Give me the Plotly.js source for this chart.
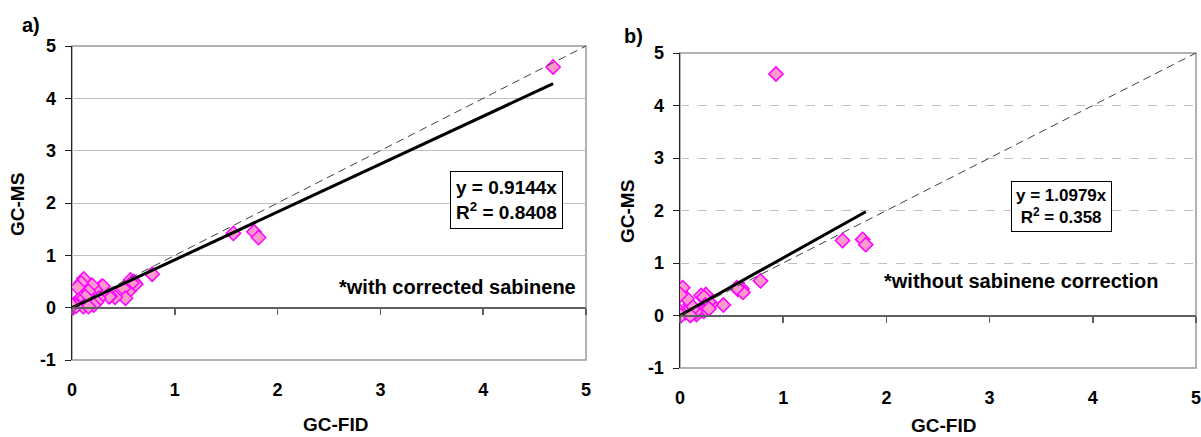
<!DOCTYPE html>
<html><head><meta charset="utf-8">
<script src="https://cdn.plot.ly/plotly-3.0.1.min.js"></script>
<style>html,body{margin:0;padding:0;background:#fff}#chart{width:1201px;height:437px}</style>
</head><body><div id="chart"></div>
<script>
// Panel a) with corrected sabinene
const fidA = [4.68, 1.57, 1.77, 1.815, 0.78, 0.57, 0.60, 0.62, 0.58, 0.55, 0.50, 0.52, 0.42, 0.37, 0.36, 0.31, 0.285, 0.30, 0.227, 0.195, 0.26, 0.24, 0.21, 0.16, 0.13, 0.114, 0.088, 0.055, 0.06, 0.08, 0.03, 0.0, 0.01, 0.11, 0.16, 0.02, 0.04, 0.0];
const msA  = [4.60, 1.42, 1.45, 1.34, 0.64, 0.53, 0.50, 0.45, 0.47, 0.31, 0.37, 0.18, 0.20, 0.22, 0.21, 0.33, 0.40, 0.41, 0.34, 0.43, 0.18, 0.11, 0.05, 0.31, 0.21, 0.55, 0.47, 0.39, 0.14, 0.11, 0.08, 0.02, 0.0, 0.02, 0.02, 0.05, 0.03, 0.04];
const slopeA = 0.9144, r2A = 0.8408;
// Panel b) without sabinene correction
const fidB = [0.93, 1.575, 1.77, 1.80, 0.78, 0.60, 0.56, 0.61, 0.55, 0.42, 0.30, 0.28, 0.25, 0.205, 0.23, 0.26, 0.245, 0.21, 0.23, 0.16, 0.15, 0.12, 0.10, 0.068, 0.026, 0.003, 0.05, 0.0, 0.01, 0.10, 0.28];
const msB  = [4.60, 1.43, 1.45, 1.35, 0.66, 0.51, 0.50, 0.44, 0.53, 0.20, 0.22, 0.26, 0.40, 0.38, 0.35, 0.15, 0.20, 0.10, 0.08, 0.02, 0.07, 0.12, 0.21, 0.32, 0.53, 0.40, 0.05, 0.07, 0.0, 0.0, 0.13];
const slopeB = 1.0979, r2B = 0.358;
const identity = [0, 5];
const xTicks = [0, 1, 2, 3, 4, 5];
const xTickText = ['0', '1', '2', '3', '4', '5'];
const yTicks = [-1, 0, 1, 2, 3, 4, 5];
const yTickText = ['-1', '0', '1', '2', '3', '4', '5'];

const W = 1201, H = 437;
const px = x => x / W, py = y => 1 - y / H;
const xDomA = [px(72), px(586)], yDomA = [py(360), py(46)];
const xDomB = [px(680), px(1196)], yDomB = [py(368), py(53)];
const zeroPos = d => d[0] + (d[1] - d[0]) / 6;

const FONT = 'Liberation Sans, Arial, sans-serif';
const marker = {symbol: 'diamond', size: 11, color: '#ff99cc', line: {color: '#ff00ff', width: 1.5}};
const b = s => '<b>' + s + '</b>';

function traces(fid, ms, slope, xa, ya, xo) {
  const xmax = Math.max(...fid);
  return [
    {x: identity, y: identity, xaxis: xo, yaxis: ya, mode: 'lines', line: {color: '#404040', width: 1, dash: '8px,5px'}, hoverinfo: 'skip'},
    {x: fid, y: ms, xaxis: xa, yaxis: ya, mode: 'markers', marker: marker},
    {x: [0, xmax], y: [0, slope * xmax], xaxis: xa, yaxis: ya, mode: 'lines', line: {color: '#000', width: 3}}
  ];
}

function xMain(dom, anchor) {
  return {domain: dom, anchor: anchor, range: [0, 5], tickmode: 'array', tickvals: xTicks, ticktext: xTickText.map(b), ticks: '',
    showgrid: false, zeroline: false, showline: false, ticklabelstandoff: 17, ticklabeloverflow: 'allow',
    tickfont: {family: FONT, size: 18, color: '#000'}};
}
function xOver(dom, over, pos) {
  return {domain: dom, overlaying: over, anchor: 'free', position: pos, range: [0, 5], tickmode: 'array', tickvals: xTicks,
    ticks: 'outside', ticklen: 6, tickwidth: 1.5, tickcolor: '#606060', showticklabels: false, showgrid: false, zeroline: false,
    showline: true, linecolor: '#606060', linewidth: 2};
}
function yAx(dom, anchor, dash) {
  return {domain: dom, anchor: anchor, range: [-1, 5], tickmode: 'array', tickvals: yTicks, ticktext: yTickText.map(b),
    ticks: 'outside', ticklen: 6, tickcolor: '#202020', ticklabeloverflow: 'allow',
    showline: true, linecolor: '#202020', linewidth: 1.5, zeroline: false, showgrid: true, gridcolor: '#c0c0c0', gridwidth: 1,
    griddash: dash, ticklabelstandoff: 5, tickfont: {family: FONT, size: 18, color: '#000'}};
}

const data = [
  ...traces(fidA, msA, slopeA, 'x', 'y', 'x2'),
  ...traces(fidB, msB, slopeB, 'x3', 'y3', 'x4')
];

function ann(text, x, y, size, extra) {
  return Object.assign({text: b(text), xref: 'paper', yref: 'paper', x: px(x), y: py(y), xanchor: 'center', yanchor: 'middle',
    showarrow: false, font: {family: FONT, size: size, color: '#000'}}, extra || {});
}

const layout = {
  width: W, height: H, margin: {l: 0, r: 0, t: 0, b: 0}, showlegend: false,
  paper_bgcolor: '#fff', plot_bgcolor: '#fff',
  xaxis: xMain(xDomA, 'y'), xaxis2: xOver(xDomA, 'x', zeroPos(yDomA)), yaxis: yAx(yDomA, 'x', 'solid'),
  xaxis3: xMain(xDomB, 'y3'), xaxis4: xOver(xDomB, 'x3', zeroPos(yDomB)), yaxis3: yAx(yDomB, 'x3', 'dash'),
  shapes: [
    {type: 'rect', xref: 'x domain', yref: 'y domain', x0: 0, x1: 1, y0: 0, y1: 1, line: {color: '#999', width: 1.5}, layer: 'below'},
    {type: 'rect', xref: 'x3 domain', yref: 'y3 domain', x0: 0, x1: 1, y0: 0, y1: 1, line: {color: '#999', width: 1.5}, layer: 'below'}
  ],
  annotations: [
    ann('a)', 31, 25, 20),
    ann('b)', 633, 36, 20),
    ann('GC-FID', 335, 424, 19),
    ann('GC-FID', 943, 425, 19),
    ann('GC-MS', 18, 205, 19, {textangle: -90}),
    ann('GC-MS', 627, 212, 19, {textangle: -90}),
    ann('y = ' + slopeA + 'x<br>R<sup>2</sup> = ' + r2A, 506.5, 200, 19, {align: 'left', bordercolor: '#000', borderwidth: 1, borderpad: 5, bgcolor: '#fff'}),
    ann('y = ' + slopeB + 'x<br>R<sup>2</sup> = ' + r2B, 1061.5, 206.5, 17, {align: 'center', bordercolor: '#000', borderwidth: 1, borderpad: 4, bgcolor: '#fff'}),
    ann('*with corrected sabinene', 457, 287, 20),
    ann('*without sabinene correction', 1021, 281, 20)
  ]
};

Plotly.newPlot('chart', data, layout, {displayModeBar: false, staticPlot: true});
</script></body></html>
